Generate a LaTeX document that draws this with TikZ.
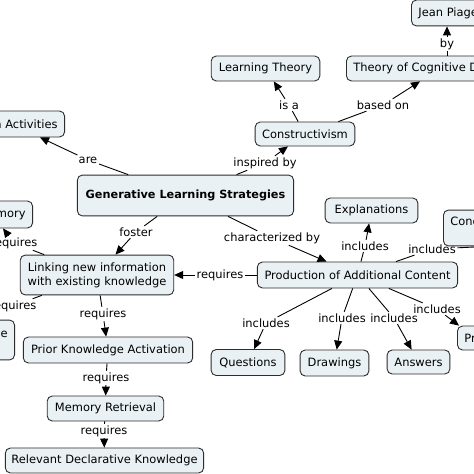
\documentclass[tikz,border=0pt]{standalone}
\usepackage{fontspec}
\setmainfont{DejaVu Sans}
\usetikzlibrary{arrows.meta,calc}
\definecolor{boxfill}{RGB}{234,241,245}
\definecolor{boxdraw}{RGB}{45,45,45}
\begin{document}
\begin{tikzpicture}[x=1bp,y=-1bp,
  cbox/.style={draw=boxdraw, fill=boxfill, rounded corners=5pt, line width=0.9pt,
    font=\fontsize{11.5}{14}\selectfont, inner sep=0pt, align=center},
  lab/.style={font=\fontsize{11.5}{13}\selectfont, inner sep=1.5pt},
  ln/.style={line width=0.9pt, draw=black},
  arr/.style={ln, -{Triangle[length=9pt,width=8pt]}}]
\useasboundingbox (0,0) rectangle (474,474);
\fill[white] (0,0) rectangle (474,474);
\clip (0,0) rectangle (474,474);

% concepts
\node[cbox, anchor=west, minimum height=26, inner xsep=7pt] (jean) at (411,13) {Jean Piaget};
\node[cbox, anchor=west, minimum height=25, inner xsep=7pt] (theory) at (346,68.5) {Theory of Cognitive Development};
\node[cbox, minimum width=109, minimum height=25] (lt) at (265.5,68.5) {Learning Theory};
\node[cbox, minimum width=100, minimum height=24] (cons) at (305,134) {Constructivism};
\node[cbox, anchor=east, minimum height=26, inner xsep=7pt] (act) at (65,124) {Generation Activities};
\node[cbox, minimum width=217, minimum height=41, font=\fontsize{11.3}{13}\selectfont\bfseries] (gls) at (185.5,195.5) {Generative Learning Strategies};
\node[cbox, anchor=east, minimum height=27, inner xsep=7pt] (mem) at (33,214.5) {Working Memory};
\node[cbox, minimum width=154, minimum height=40] (link) at (97,275) {Linking new information\\with existing knowledge};
\node[cbox, anchor=east, minimum height=40, inner xsep=7pt] (kb) at (15,340) {Domain Knowledge\\Base};
\node[cbox, minimum width=201, minimum height=26] (prod) at (357.5,275) {Production of Additional Content};
\node[cbox, minimum width=93, minimum height=25] (expl) at (371.5,210.5) {Explanations};
\node[cbox, anchor=west, minimum height=36, inner xsep=7pt] (conc) at (443,228) {Concept Mapping\\Tasks};
\node[cbox, anchor=west, minimum height=24, inner xsep=7pt] (pred) at (457,338) {Predictions};
\node[cbox, minimum width=74, minimum height=26] (q) at (248,362.5) {Questions};
\node[cbox, minimum width=69, minimum height=26] (drw) at (334.5,363) {Drawings};
\node[cbox, minimum width=63, minimum height=24] (ans) at (418.5,362) {Answers};
\node[cbox, minimum width=170, minimum height=26] (prior) at (108,350) {Prior Knowledge Activation};
\node[cbox, minimum width=117, minimum height=25] (mr) at (105.5,408.5) {Memory Retrieval};
\node[cbox, minimum width=199, minimum height=25] (rdk) at (104.5,460.5) {Relevant Declarative Knowledge};

% linking phrases
\node[lab] (lby) at (447,44) {by};
\node[lab] (lisa) at (289,105) {is a};
\node[lab] (lbased) at (383,105) {based on};
\node[lab] (linsp) at (265,163) {inspired by};
\node[lab] (lare) at (88,160) {are};
\node[lab] (lfoster) at (136,232) {foster};
\node[lab] (lchar) at (272,238) {characterized by};
\node[lab] (lreqa) at (14,243) {requires};
\node[lab] (lreqb) at (13,306) {requires};
\node[lab] (lreqc) at (103,314) {requires};
\node[lab] (lreqd) at (106,378) {requires};
\node[lab] (lreqe) at (104,431) {requires};
\node[lab] (lreqf) at (220,275) {requires};
\node[lab] (lincx) at (365,246) {includes};
\node[lab] (linck) at (432,249) {includes};
\node[lab] (lincq) at (266,323) {includes};
\node[lab] (lincd) at (342,318) {includes};
\node[lab] (linca) at (394,318) {includes};
\node[lab] (lincp) at (437,309) {includes};

% connectors
\draw[ln] ($(theory.north west)+(101,0)$) -- (lby);
\draw[arr] (lby) -- ($(jean.south west)+(36,0)$);
\draw[ln] (cons) -- (lisa);
\draw[arr] (lisa) -- (lt);
\draw[ln] (cons) -- (lbased);
\draw[arr] (lbased) -- ($(theory.south west)+(74,0)$);
\draw[ln] (gls) -- (linsp);
\draw[arr] (linsp) -- (cons);
\draw[ln] (gls) -- (lare);
\draw[arr] (lare) -- ($(act.south east)+(-25,0)$);
\draw[ln] (gls) -- (lfoster);
\draw[arr] (lfoster) -- (link);
\draw[ln] (gls) -- (lchar);
\draw[arr] (lchar) -- (prod);
\draw[ln] (link) -- (lreqa);
\draw[arr] (lreqa) -- ($(mem.south east)+(-30,0)$);
\draw[ln] (link) -- (lreqb);
\draw[arr] (lreqb) -- (kb.north);
\draw[ln] (link) -- (lreqc);
\draw[arr] (lreqc) -- (prior);
\draw[ln] (prior) -- (lreqd);
\draw[arr] (lreqd) -- (mr);
\draw[ln] (mr) -- (lreqe);
\draw[arr] (lreqe) -- (rdk);
\draw[ln] (prod) -- (lreqf);
\draw[arr] (lreqf) -- (link);
\draw[ln] (prod) -- (lincx);
\draw[arr] (lincx) -- (expl);
\draw[ln] (prod) -- (linck);
\draw[arr] (linck) -- ($(conc.south west)+(45,0)$);
\draw[ln] (prod) -- (lincq);
\draw[arr] (lincq) -- (q);
\draw[ln] (prod) -- (lincd);
\draw[arr] (lincd) -- (drw);
\draw[ln] (prod) -- (linca);
\draw[arr] (linca) -- (ans);
\draw[ln] (prod) -- (lincp);
\draw[arr] (lincp) -- ($(pred.north west)+(2,0)$);
\end{tikzpicture}
\end{document}
